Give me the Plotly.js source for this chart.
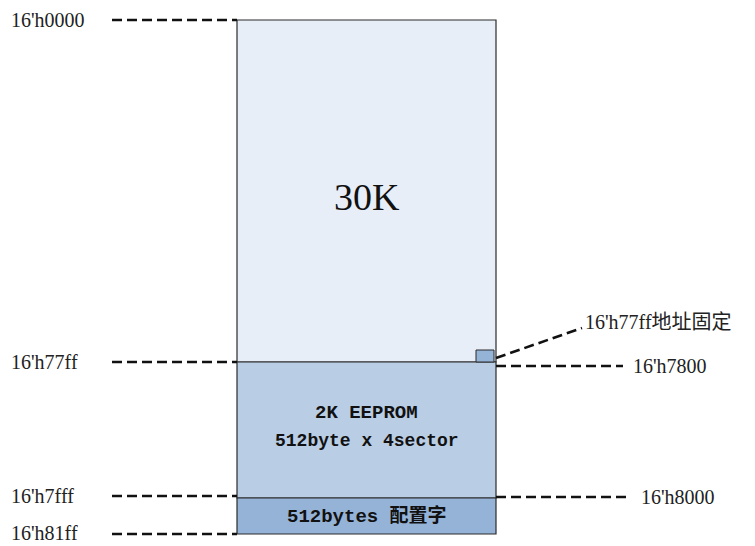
<!DOCTYPE html>
<html><head><meta charset="utf-8">
<script src="https://cdn.plot.ly/plotly-3.0.1.min.js"></script>
<style>html,body{margin:0;padding:0;background:#fff}#c{width:755px;height:546px}</style>
</head><body><div id="c"></div>
<script>
// Memory regions (display units, top-down)
const regionLabels = ['30K', '2K EEPROM', '512bytes 配置字'];
const regionSubLabels = ['', '512byte x 4sector', ''];
const regionStart = [0, 342, 478];
const regionEnd = [342, 478, 514];
const regionColors = ['#e8eef8', '#b9cde5', '#95b3d7'];
// Address labels on the left (at region boundaries)
const leftAddr = ["16'h0000", "16'h77ff", "16'h7fff", "16'h81ff"];
const leftAddrPos = [0, 342, 476, 514];
// Address labels on the right
const rightAddr = ["16'h7800", "16'h8000"];
const rightAddrPos = [346, 477];
const noteText = "16'h77ff地址固定";

const Y0 = 20;
const BX0 = 237, BX1 = 496;
const shapes = [];
const ann = [];
for (let i = 0; i < regionLabels.length; i++) {
  shapes.push({type:'rect', xref:'x', yref:'y', x0:BX0, x1:BX1, y0:Y0+regionStart[i], y1:Y0+regionEnd[i],
    fillcolor:regionColors[i], line:{color:'#2b2b2b', width:1.2}, layer:'below'});
}
// small marker block
shapes.push({type:'rect', xref:'x', yref:'y', x0:476, x1:494, y0:Y0+330, y1:Y0+342,
  fillcolor:'#95b3d7', line:{color:'#2b2b2b', width:1}});
const dash = '10px,5px';
const lw = 2.6;
const labFont = {family:'Liberation Serif, Noto Sans CJK SC', size:20, color:'#222'};
leftAddr.forEach((t, i) => {
  const y = Y0 + leftAddrPos[i];
  shapes.push({type:'line', xref:'x', yref:'y', x0:112, x1:BX0, y0:y, y1:y, line:{color:'#111', width:lw, dash}});
  ann.push({x:10, y:(i === 3 ? 545 : y), xref:'x', yref:'y', text:t, showarrow:false, xanchor:'left',
    yanchor:(i === 3 ? 'bottom' : 'middle'), borderpad:0, font:labFont});
});
const rightEnd = [623, 628];
const rightLabelX = [631, 639];
rightAddr.forEach((t, i) => {
  const y = Y0 + rightAddrPos[i];
  shapes.push({type:'line', xref:'x', yref:'y', x0:BX1, x1:rightEnd[i], y0:y, y1:y, line:{color:'#111', width:lw, dash}});
  ann.push({x:rightLabelX[i], y:y, xref:'x', yref:'y', text:t, showarrow:false, xanchor:'left', yanchor:'middle',
    font:labFont});
});
// diagonal note line
shapes.push({type:'line', xref:'x', yref:'y', x0:496, x1:582, y0:Y0+338, y1:Y0+308, line:{color:'#111', width:lw, dash}});
ann.push({x:583, y:Y0+302, xref:'x', yref:'y', text:noteText, showarrow:false, xanchor:'left', yanchor:'middle',
  font:labFont});
// region labels
const mid = (BX0+BX1)/2;
ann.push({x:mid, y:Y0+177, xref:'x', yref:'y', text:regionLabels[0], showarrow:false,
  font:{family:'Liberation Serif', size:38, color:'#111'}});
ann.push({x:mid, y:Y0+393, xref:'x', yref:'y', text:'<b>'+regionLabels[1]+'</b>', showarrow:false,
  font:{family:'Liberation Mono', size:19, color:'#111'}});
ann.push({x:mid, y:Y0+421, xref:'x', yref:'y', text:'<b>'+regionSubLabels[1]+'</b>', showarrow:false,
  font:{family:'Liberation Mono', size:18, color:'#111'}});
ann.push({x:mid, y:Y0+496, xref:'x', yref:'y', text:'<b>'+regionLabels[2]+'</b>', showarrow:false,
  font:{family:'Liberation Mono, Noto Sans CJK SC', size:19, color:'#111'}});

Plotly.newPlot('c', [], {
  width:755, height:546, margin:{l:0,r:0,t:0,b:0},
  paper_bgcolor:'#fff', plot_bgcolor:'#fff',
  xaxis:{range:[0,755], visible:false, fixedrange:true},
  yaxis:{range:[546,0], visible:false, fixedrange:true},
  shapes, annotations:ann, showlegend:false
}, {staticPlot:true});
</script></body></html>
